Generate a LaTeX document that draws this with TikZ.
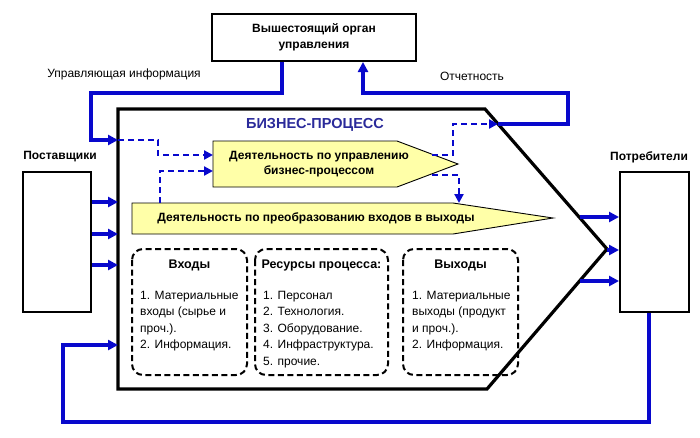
\documentclass[tikz,border=0pt]{standalone}
\usepackage{fontspec}
\setmainfont{Liberation Sans}
\usetikzlibrary{arrows.meta,calc}
\definecolor{lblue}{HTML}{0808CC}
\definecolor{tblue}{HTML}{2A2A9A}
\definecolor{ylw}{HTML}{FFFFA8}
\begin{document}
\begin{tikzpicture}[x=1pt,y=-1pt,
  box/.style={draw, line width=2pt, fill=white, inner sep=0pt},
  flow/.style={draw=lblue, line width=3.2pt, -{Triangle[length=10pt,width=10pt]}},
  ctrl/.style={draw=lblue, line width=2.2pt, dash pattern=on 6pt off 4pt, -{Triangle[length=9pt,width=9pt]}},
  yarrow/.style={draw, line width=0.9pt, fill=ylw},
  dbox/.style={draw, line width=2pt, dash pattern=on 6pt off 3.5pt, rounded corners=11pt},
  lbl/.style={font=\fontsize{12}{14}\selectfont, inner sep=0pt},
  blbl/.style={font=\fontsize{12}{14}\selectfont\bfseries, inner sep=0pt},
  tlbl/.style={font=\fontsize{12.5}{14}\selectfont\bfseries, inner sep=0pt},
  body/.style={font=\fontsize{12}{16.5}\selectfont, align=left, inner sep=0pt, anchor=north west},
]
\useasboundingbox (0,0) rectangle (700,437);

% top box
\node[box, minimum width=204pt, minimum height=47pt, align=center,
  font=\fontsize{12}{15.5}\selectfont\bfseries] (boss) at (314,37.5) {Вышестоящий орган\\управления};

% suppliers / consumers
\node[box, minimum width=68pt, minimum height=140pt] (sup) at (57,242) {};
\node[box, minimum width=69pt, minimum height=140pt] (con) at (654.5,242) {};
\node[blbl] (suplbl) at (60,157) {Поставщики};
\node[blbl] (conlbl) at (649,157) {Потребители};

% business process pentagon
\coordinate (pTL) at (118,109);
\coordinate (pTR) at (485,109);
\coordinate (pTip) at (607,249);
\coordinate (pBR) at (487,389);
\coordinate (pBL) at (118,389);
\draw[line width=3.2pt, line join=miter] (pTL) -- (pTR) -- (pTip) -- (pBR) -- (pBL) -- cycle;
\node[font=\fontsize{14.5}{16}\selectfont\bfseries, text=tblue, inner sep=0pt] (bp) at (315,125) {БИЗНЕС-ПРОЦЕСС};

% management arrow
\coordinate (mL) at (213,141);
\draw[yarrow] (mL) -- (397,141) -- (458,164) -- (397,187) -- (213,187) -- cycle;
\node[align=center, inner sep=0pt, font=\fontsize{12}{15.5}\selectfont\bfseries] (mgmt) at (319,164) {Деятельность по управлению\\бизнес-процессом};

% transformation arrow
\draw[yarrow] (132,203) -- (453,203) -- (553,218) -- (453,234) -- (132,234) -- cycle;
\node[blbl] (trans) at (316,218) {Деятельность по преобразованию входов в выходы};

% dashed boxes
\draw[dbox] (132,249) rectangle (247,375);
\draw[dbox] (255,249) rectangle (388,375);
\draw[dbox] (403,249) rectangle (518,375);
\node[tlbl] (inT) at (189.5,265) {Входы};
\node[tlbl] (resT) at (321.5,265) {Ресурсы процесса:};
\node[tlbl] (outT) at (460.5,265) {Выходы};
\node[body] (inB) at (140,291) {1. Материальные\\входы (сырье и\\проч.).\\2. Информация.};
\node[body] (resB) at (263,291) {1. Персонал\\2. Технология.\\3. Оборудование.\\4. Инфраструктура.\\5. прочие.};
\node[body] (outB) at (412,291) {1. Материальные\\выходы (продукт\\и проч.).\\2. Информация.};

% labels
\node[lbl] (ctrlLbl) at (124,74) {Управляющая информация};
\node[lbl] (repLbl) at (472,76) {Отчетность};

% control information
\coordinate (cx) at (282,0);
\coordinate (ctrlIn) at (118,140);
\draw[flow] (boss.south -| cx) -- (282,93) -- (91,93) -- (91,140) -- (ctrlIn);

% reporting
\coordinate (repOut) at (498,124);
\coordinate (rx) at (363,0);
\draw[flow] (repOut) -- (568,124) -- (568,93) -- (363,93) -- (boss.south -| rx);

% dashed control lines
\draw[ctrl] (ctrlIn) -- (158,140) -- (158,155) -- (mL |- 0,155);
\draw[ctrl] (160,203) -- (160,171) -- (mL |- 0,171);
\draw[ctrl] (432,155) -- (453,155) -- (453,124) -- (repOut);
\draw[ctrl] (432,175) -- (459,175) -- (459,203);

% supplier inputs
\draw[flow] (sup.east |- 0,202) -- (118,202);
\draw[flow] (sup.east |- 0,234) -- (118,234);
\draw[flow] (sup.east |- 0,265) -- (118,265);

% outputs to consumers
\draw[flow] (580,217) -- (con.west |- 0,217);
\draw[flow] (pTip |- 0,250) -- (con.west |- 0,250);
\draw[flow] (580,281) -- (con.west |- 0,281);

% feedback
\coordinate (fx) at (649,0);
\draw[flow] (con.south -| fx) -- (649,422) -- (63,422) -- (63,345) -- (118,345);
\end{tikzpicture}
\end{document}
